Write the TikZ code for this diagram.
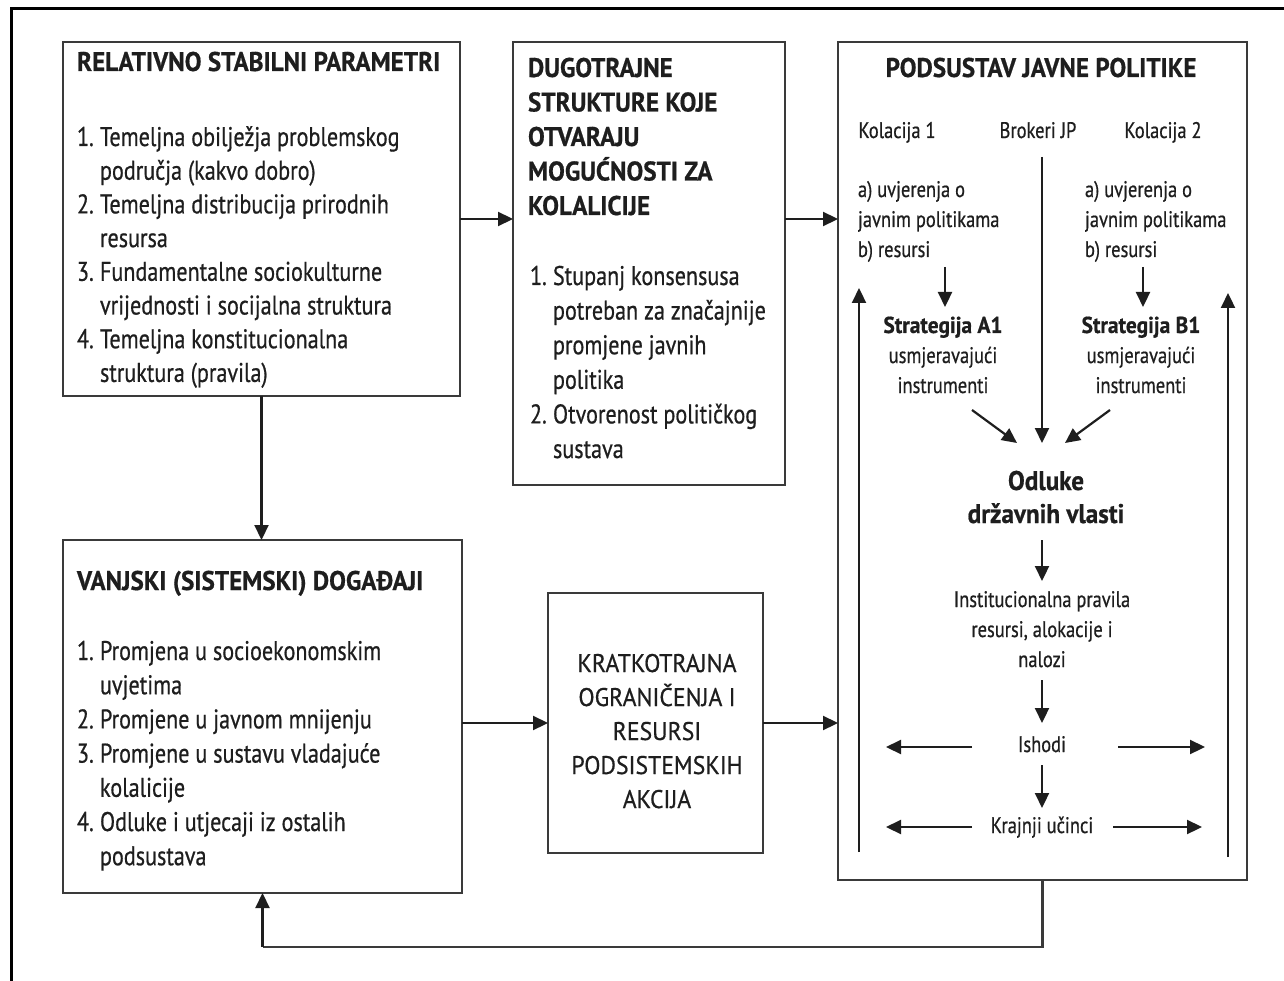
\documentclass[tikz,border=0pt]{standalone}
\usepackage{fontspec}
\setmainfont{PT Sans}[FakeStretch=0.82, FakeBold=0.6]
\newfontfamily\TitleFont{PT Sans}[FakeStretch=0.93, FakeBold=0.6]
\usetikzlibrary{arrows.meta,calc}
\newcommand\LeftLines[2]{\vtop{\baselineskip=#1\lineskiplimit=-100pt\lineskip=0pt\halign{##\hfil\cr#2\crcr}}}
\newcommand\MidLines[2]{\vtop{\baselineskip=#1\lineskiplimit=-100pt\lineskip=0pt\halign{\hfil##\hfil\cr#2\crcr}}}
\newcommand\ItemNum[1]{\makebox[23pt][l]{#1}}
\newcommand\ItemCont{\hspace*{23pt}}
\definecolor{boxline}{HTML}{3A3A3A}
\definecolor{ink}{HTML}{1E1E1E}
\tikzset{
  box/.style={draw=boxline, line width=2.6pt, rectangle, inner sep=0pt, outer sep=0pt, fill=white},
  txt/.style={inner sep=0pt, outer sep=0pt, text=ink},
  big/.style={font=\fontsize{27}{34}\selectfont},
  ttl/.style={font=\TitleFont\bfseries\fontsize{27}{34}\selectfont},
  small/.style={font=\fontsize{22.5}{30}\selectfont},
  arr/.style={draw=ink, line width=2.2pt, -{Triangle[length=15pt,width=14pt]}},
  fbline/.style={draw=boxline, line width=2.6pt},
}
\begin{document}
\begin{tikzpicture}[x=1pt,y=-1pt]
\useasboundingbox (0,0) rectangle (1284,981);
\fill[white] (0,0) rectangle (1284,981);
% outer frame
\draw[line width=3pt, black] (11,981) -- (11,9) -- (1284,9);

% boxes
\node[box, minimum width=397pt, minimum height=354pt] (b1) at (261.5,219) {};
\node[box, minimum width=272pt, minimum height=443pt] (b2) at (649,263.5) {};
\node[box, minimum width=409pt, minimum height=838pt] (b3) at (1042.5,461) {};
\node[box, minimum width=399pt, minimum height=353pt] (b4) at (262.5,716.5) {};
\node[box, minimum width=215pt, minimum height=260pt] (b5) at (655.5,723) {};

% box 1 text
\node[txt, ttl, anchor=base west] (t1) at (77,71) {RELATIVNO STABILNI PARAMETRI};
\node[txt, big, anchor=base west] (l1) at (77,146) {\LeftLines{33.7pt}{%
\ItemNum{1.}Temeljna obilježja problemskog\cr
\ItemCont područja (kakvo dobro)\cr
\ItemNum{2.}Temeljna distribucija prirodnih\cr
\ItemCont resursa\cr
\ItemNum{3.}Fundamentalne sociokulturne\cr
\ItemCont vrijednosti i socijalna struktura\cr
\ItemNum{4.}Temeljna konstitucionalna\cr
\ItemCont struktura (pravila)}};

% box 2 text
\node[txt, ttl, anchor=base west] (t2) at (528,77) {\LeftLines{34.5pt}{%
DUGOTRAJNE\cr STRUKTURE KOJE\cr OTVARAJU\cr MOGUĆNOSTI ZA\cr KOLALICIJE}};
\node[txt, big, anchor=base west] (l2) at (530,285) {\LeftLines{34.6pt}{%
\ItemNum{1.}Stupanj konsensusa\cr
\ItemCont potreban za značajnije\cr
\ItemCont promjene javnih\cr
\ItemCont politika\cr
\ItemNum{2.}Otvorenost političkog\cr
\ItemCont sustava}};

% box 4 text
\node[txt, ttl, anchor=base west] (t4) at (77,590) {VANJSKI (SISTEMSKI) DOGAĐAJI};
\node[txt, big, anchor=base west] (l4) at (77,660) {\LeftLines{34.2pt}{%
\ItemNum{1.}Promjena u socioekonomskim\cr
\ItemCont uvjetima\cr
\ItemNum{2.}Promjene u javnom mnijenju\cr
\ItemNum{3.}Promjene u sustavu vladajuće\cr
\ItemCont kolalicije\cr
\ItemNum{4.}Odluke i utjecaji iz ostalih\cr
\ItemCont podsustava}};

% box 5 text
\node[txt, font=\TitleFont\fontsize{25.5}{34}\selectfont, anchor=base] (t5) at (657,672) {\MidLines{34pt}{%
KRATKOTRAJNA\cr OGRANIČENJA I\cr RESURSI\cr PODSISTEMSKIH\cr AKCIJA}};

% box 3 content
\node[txt, ttl, anchor=base] (t3) at (1041,77) {PODSUSTAV JAVNE POLITIKE};
\node[txt, small, anchor=base] (k1) at (897,138) {Kolacija 1};
\node[txt, small, anchor=base] (brok) at (1038,138) {Brokeri JP};
\node[txt, small, anchor=base] (k2) at (1163,138) {Kolacija 2};
\node[txt, small, anchor=base west] (bel1) at (858,197) {\LeftLines{30pt}{a) uvjerenja o\cr javnim politikama\cr b) resursi}};
\node[txt, small, anchor=base west] (bel2) at (1085,197) {\LeftLines{30pt}{a) uvjerenja o\cr javnim politikama\cr b) resursi}};
\node[txt, small, anchor=base] (sA) at (943,333) {\MidLines{30pt}{{\TitleFont\bfseries\fontsize{23}{30}\selectfont Strategija A1}\cr usmjeravajući\cr instrumenti}};
\node[txt, small, anchor=base] (sB) at (1141,333) {\MidLines{30pt}{{\TitleFont\bfseries\fontsize{23}{30}\selectfont Strategija B1}\cr usmjeravajući\cr instrumenti}};
\node[txt, font=\TitleFont\bfseries\fontsize{27}{33}\selectfont, anchor=base] (odl) at (1046,490) {\MidLines{33pt}{Odluke\cr državnih vlasti}};
\node[txt, small, anchor=base] (inst) at (1042,607) {\MidLines{30pt}{Institucionalna pravila\cr resursi, alokacije i\cr nalozi}};
\node[txt, small, anchor=base] (ish) at (1042,752) {Ishodi};
\node[txt, small, anchor=base] (kra) at (1042,833) {Krajnji učinci};

% coordinates for arrow ends inside box 3
\coordinate (aTop) at (945,267);
\coordinate (aTip) at (945,307);
\coordinate (bTop) at (1143,267);
\coordinate (bTip) at (1143,307);
\coordinate (brTop) at (1042,157);
\coordinate (odlTop) at (1042,443);
\coordinate (sAend) at (972,410);
\coordinate (sAtip) at (1017,443);
\coordinate (sBend) at (1110,410);
\coordinate (sBtip) at (1065,443);
\coordinate (o1) at (1042,540);
\coordinate (o2) at (1042,581);
\coordinate (i1) at (1042,680);
\coordinate (i2) at (1042,723);
\coordinate (h1) at (1042,765);
\coordinate (h2) at (1042,808);
\coordinate (ishL) at (972,747);
\coordinate (ishLt) at (886,747);
\coordinate (ishR) at (1118,747);
\coordinate (ishRt) at (1205,747);
\coordinate (kraL) at (972,827);
\coordinate (kraLt) at (886,827);
\coordinate (kraR) at (1113,827);
\coordinate (kraRt) at (1202,827);
\coordinate (upL0) at (859,852);
\coordinate (upL1) at (859,288);
\coordinate (upR0) at (1228,857);
\coordinate (upR1) at (1228,293);
\coordinate (fb) at (0,947);

% connectors between boxes
\draw[arr] (b1.east) -- (b1.east -| b2.west);
\draw[arr] (b2.east |- b1.east) -- (b3.west |- b1.east);
\draw[arr] (b1.south) -- (b1.south |- b4.north);
\draw[arr] (b4.east |- b5.west) -- (b5.west);
\draw[arr] (b5.east) -- (b5.east -| b3.west);
\draw[fbline] (b3.south) -- (b3.south |- fb) -- (b4.south |- fb);
\draw[arr] (b4.south |- fb) -- (b4.south);

% arrows inside box 3
\draw[arr] (aTop) -- (aTip);
\draw[arr] (bTop) -- (bTip);
\draw[arr] (brTop) -- (odlTop);
\draw[arr] (sAend) -- (sAtip);
\draw[arr] (sBend) -- (sBtip);
\draw[arr] (o1) -- (o2);
\draw[arr] (i1) -- (i2);
\draw[arr] (h1) -- (h2);
\draw[arr] (ishL) -- (ishLt);
\draw[arr] (ishR) -- (ishRt);
\draw[arr] (kraL) -- (kraLt);
\draw[arr] (kraR) -- (kraRt);
\draw[arr] (upL0) -- (upL1);
\draw[arr] (upR0) -- (upR1);
\end{tikzpicture}
\end{document}
